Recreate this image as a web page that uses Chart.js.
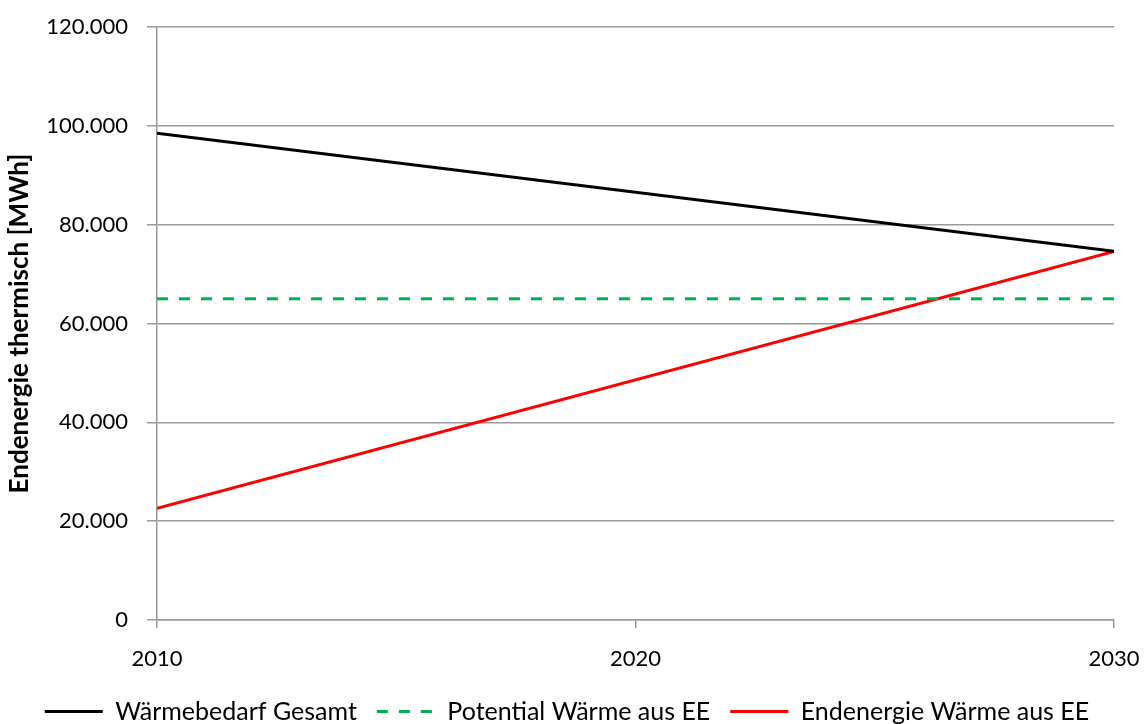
<!DOCTYPE html>
<html>
<head>
<meta charset="utf-8">
<script src="https://cdn.jsdelivr.net/npm/chart.js@4.4.1/dist/chart.umd.min.js"></script>
<style>
  html, body { margin: 0; padding: 0; background: #fff; }
  #wrap { width: 1145px; height: 724px; }
</style>
</head>
<body>
<div id="wrap"><canvas id="c" width="1145" height="724"></canvas></div>
<script>
const years = [2010, 2030];
const waermebedarfGesamt = [98500, 74600];
const potentialWaermeEE = [65000, 65000];
const endenergieWaermeEE = [22600, 74600];
const yTicks = [0, 20000, 40000, 60000, 80000, 100000, 120000];
const xTicks = [2010, 2020, 2030];

const FONT = 'Lato, "Open Sans", sans-serif';
const toXY = (vals) => vals.map((v, i) => ({ x: years[i], y: v }));
const fmt = (v) => v === 0 ? '0' : v.toLocaleString('de-DE');

new Chart(document.getElementById('c'), {
  type: 'line',
  data: {
    datasets: [
      { label: 'Wärmebedarf Gesamt', data: toXY(waermebedarfGesamt), borderColor: '#000000', backgroundColor: '#000000', borderWidth: 3, pointRadius: 0, tension: 0 },
      { label: 'Potential Wärme aus EE', data: toXY(potentialWaermeEE), borderColor: '#00b050', backgroundColor: '#00b050', borderWidth: 3, borderDash: [11, 11], pointRadius: 0, tension: 0 },
      { label: 'Endenergie Wärme aus EE', data: toXY(endenergieWaermeEE), borderColor: '#ff0000', backgroundColor: '#ff0000', borderWidth: 3, pointRadius: 0, tension: 0 }
    ]
  },
  options: {
    responsive: false,
    animation: false,
    layout: { padding: { top: 27, right: 31, left: 20, bottom: -10 } },
    plugins: {
      legend: {
        position: 'bottom',
        labels: {
          font: { family: FONT, size: 25 },
          color: '#000',
          usePointStyle: true,
          pointStyle: 'line',
          pointStyleWidth: 58,
          boxWidth: 58,
          boxHeight: 22,
          padding: 20,
          generateLabels: (chart) => chart.data.datasets.map((ds, i) => ({
            text: ds.label,
            datasetIndex: i,
            fillStyle: ds.borderColor,
            strokeStyle: ds.borderColor,
            lineWidth: ds.borderWidth,
            lineDash: ds.borderDash || [],
            lineCap: 'butt',
            pointStyle: 'line',
            fontColor: '#000',
            hidden: false
          }))
        }
      },
      tooltip: { enabled: false }
    },
    scales: {
      x: {
        type: 'linear',
        min: 2010, max: 2030,
        afterBuildTicks: (s) => { s.ticks = xTicks.map(v => ({ value: v })); },
        afterFit: (s) => { s.height = 59; s.paddingLeft = 0; s.paddingRight = 0; },
        ticks: { font: { family: FONT, size: 22 }, color: '#000', padding: 18, maxRotation: 0, callback: (v) => String(v) },
        grid: { drawOnChartArea: false, color: '#999', lineWidth: 1.5, tickLength: 8 },
        border: { color: '#999', width: 1.5 }
      },
      y: {
        min: 0, max: 120000,
        afterBuildTicks: (s) => { s.ticks = yTicks.map(v => ({ value: v })); },
        afterFit: (s) => { s.width = 137; s.paddingTop = 0; s.paddingBottom = 0; },
        ticks: { font: { family: FONT, size: 22 }, color: '#000', padding: 19, callback: (v) => fmt(v) },
        grid: { color: '#999', lineWidth: 1.5, tickLength: 10 },
        border: { color: '#999', width: 1.5 },
        title: { display: true, text: 'Endenergie thermisch [MWh]', font: { family: FONT, size: 26, weight: 'bold' }, color: '#000', padding: { top: -16, bottom: 0 } }
      }
    }
  }
});
</script>
</body>
</html>
